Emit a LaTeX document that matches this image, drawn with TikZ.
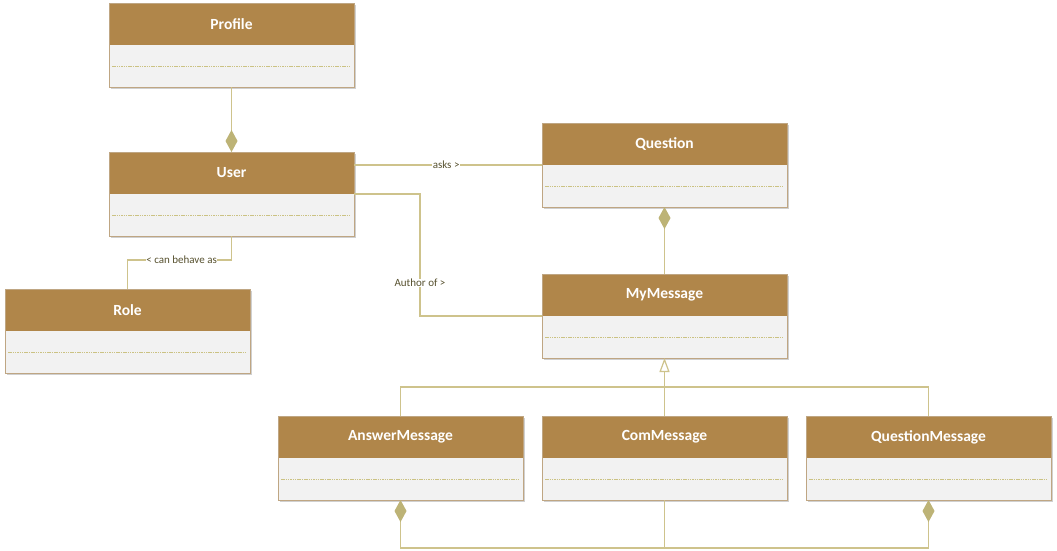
\documentclass[tikz,border=0pt]{standalone}
\usepackage{fontspec}
\setmainfont{Carlito}
\usetikzlibrary{arrows.meta,calc}
\definecolor{hdrcol}{HTML}{B0864A}
\definecolor{bodycol}{HTML}{F2F2F2}
\definecolor{bordcol}{HTML}{BFA683}
\definecolor{linecol}{HTML}{CEC38C}
\definecolor{diacol}{HTML}{BDB376}
\definecolor{dashcol}{HTML}{CBC283}
\definecolor{lblcol}{HTML}{57512F}
\definecolor{shcol}{HTML}{D0D0D0}
\tikzset{
  hdr/.style={fill=hdrcol, inner sep=0pt, outer sep=0pt, minimum width=245pt, minimum height=42pt,
    text=white, font=\fontsize{15.5}{17}\selectfont\bfseries},
  bodyst/.style={fill=bodycol, inner sep=0pt, outer sep=0pt, minimum width=245pt, minimum height=42pt},
  dashline/.style={draw=dashcol, line width=0.9pt, dash pattern=on 1.5pt off 0.8pt},
  border/.style={draw=bordcol, line width=0.8pt},
  conn/.style={draw=linecol, line width=1.2pt},
  lbl/.style={fill=white, inner sep=0.5pt, text=lblcol, font=\fontsize{11}{12}\selectfont},
  comp/.style={conn, -{Diamond[length=22pt,width=12pt,fill=diacol,color=diacol]}},
  inh/.style={conn, -{Triangle[open,length=14pt,width=10pt,fill=white]}}
}
\newcommand\umlbox[4]{%
  \fill[shcol] (#2+2,-#3-2) rectangle ++(245,-84);
  \node[hdr, anchor=north west] (#1H) at (#2,-#3) {#4};
  \node[bodyst, anchor=north] (#1B) at (#1H.south) {};
  \draw[dashline] ([xshift=3pt]#1B.west) -- ([xshift=-3pt]#1B.east);
  \draw[border] (#1H.north west) rectangle (#1B.south east);
}
\begin{document}
\begin{tikzpicture}[x=1pt,y=1pt]
\useasboundingbox[fill=white] (0,0) rectangle (1057,-551);
\umlbox{profile}{109}{3}{Profile}
\umlbox{user}{109}{152}{User}
\umlbox{role}{5}{289}{Role}
\umlbox{question}{542}{123}{Question}
\umlbox{mym}{542}{274}{MyMessage}
\umlbox{ans}{278}{416}{AnswerMessage}
\umlbox{com}{542}{416}{ComMessage}
\umlbox{qm}{806}{416}{QuestionMessage}
% Profile - User composition
\draw[comp] (profileB.south) -- (userH.north);
% asks
\draw[conn] (userH.east |- questionB.north) -- node[lbl, pos=0.49]{asks >} (questionB.north west);
% Author of
\draw[conn] (userB.north east) -- ++(66,0) coordinate (a1) -- (a1 |- mymB.north west) node[lbl, pos=0.73]{Author of >} -- (mymB.north west);
% can behave as
\draw[conn] (userB.south) -- ++(0,-24) coordinate (c1) -- node[lbl, pos=0.48]{< can behave as} (c1 -| roleH.north) -- (roleH.north);
% Question - MyMessage composition
\draw[comp] (mymH.north) -- (questionB.south);
% Inheritance
\draw[conn] (ansH.north) -- ++(0,29) coordinate (i1) -- (i1 -| qmH.north) -- (qmH.north);
\draw[inh] (comH.north) -- (mymB.south);
% bottom compositions
\draw[conn] (comB.south) -- ++(0,-48) coordinate (b1);
\draw[comp] (b1) -| (ansB.south);
\draw[comp] (b1) -| (qmB.south);
\end{tikzpicture}
\end{document}
